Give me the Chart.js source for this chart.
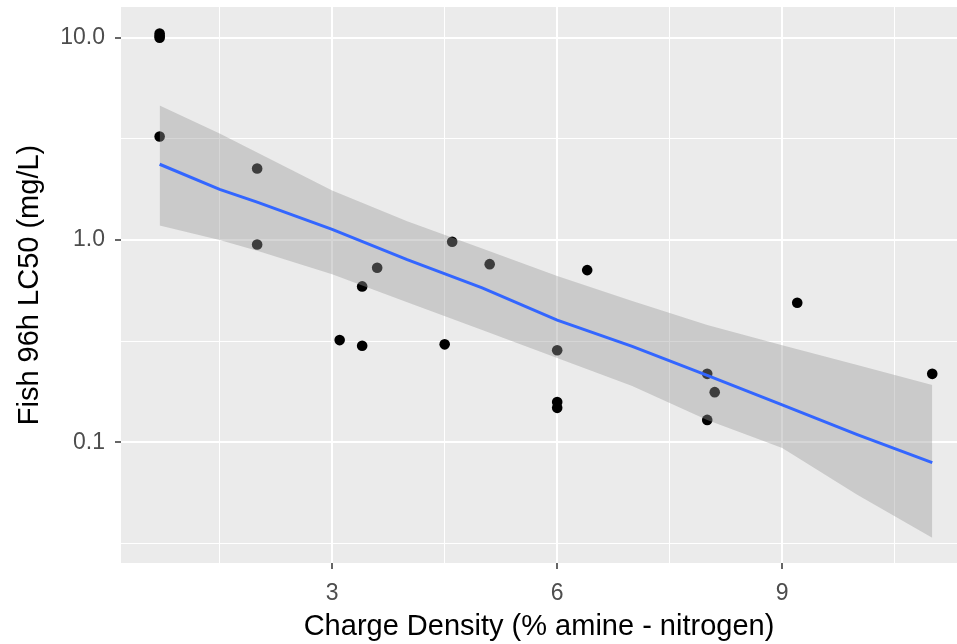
<!DOCTYPE html>
<html>
<head>
<meta charset="utf-8">
<script src="https://cdn.jsdelivr.net/npm/chart.js@4/dist/chart.umd.min.js"></script>
<style>
  html, body { margin: 0; padding: 0; background: #fff; }
  #wrap { width: 957px; height: 644px; }
</style>
</head>
<body>
<div id="wrap"><canvas id="lcChart"></canvas></div>
<script>
// observed points
const pointX = [0.7, 0.7, 0.7, 0.7, 2.0, 2.0, 3.1, 3.4, 3.4, 3.6, 4.5, 4.6, 5.1, 6.0, 6.0, 6.0, 6.4, 8.0, 8.1, 8.0, 9.2, 11.0];
const pointY = [10.0, 10.2, 10.5, 3.25, 2.26, 0.95, 0.32, 0.59, 0.30, 0.73, 0.305, 0.98, 0.76, 0.285, 0.158, 0.148, 0.71, 0.218, 0.177, 0.129, 0.49, 0.218];

// smoother and its confidence band
const smoothX = [0.7, 1.5, 2, 3, 4, 5, 6, 7, 8, 9, 10, 11];
const smoothY = [2.37, 1.78, 1.54, 1.13, 0.80, 0.58, 0.402, 0.298, 0.214, 0.153, 0.109, 0.0793];
const bandHigh = [4.63, 3.36, 2.71, 1.76, 1.24, 0.907, 0.665, 0.499, 0.380, 0.302, 0.241, 0.192];
const bandLow = [1.18, 1.0, 0.886, 0.678, 0.493, 0.359, 0.261, 0.190, 0.129, 0.0937, 0.055, 0.0337];

// axis ticks (major ones carry labels)
const xTicks = [1.5, 3, 4.5, 6, 7.5, 9, 10.5];
const xLabels = ['', '3', '', '6', '', '9', ''];
const yTicks = [0.0316, 0.1, 0.316, 1, 3.16, 10];
const yLabels = ['', '0.1', '', '1.0', '', '10.0'];

const toXY = (xs, ys) => xs.map((x, i) => ({ x: x, y: ys[i] }));

const panelBg = {
    id: 'panelBg',
    beforeDraw(chart) {
        const { ctx, chartArea: a } = chart;
        ctx.save();
        ctx.fillStyle = '#EBEBEB';
        ctx.fillRect(a.left, a.top, a.right - a.left, a.bottom - a.top);
        ctx.restore();
    }
};

Chart.defaults.font.family = '"Liberation Sans", Arial, sans-serif';

new Chart(document.getElementById('lcChart'), {
    type: 'scatter',
    data: {
        datasets: [
            {
                data: toXY(smoothX, smoothY),
                showLine: true,
                borderColor: '#3366FF',
                borderWidth: 3,
                pointRadius: 0,
                fill: false
            },
            {
                data: toXY(smoothX, bandHigh),
                showLine: true,
                borderWidth: 0,
                borderColor: 'rgba(0,0,0,0)',
                pointRadius: 0,
                fill: '+1',
                backgroundColor: 'rgba(153,153,153,0.4)'
            },
            {
                data: toXY(smoothX, bandLow),
                showLine: true,
                borderWidth: 0,
                borderColor: 'rgba(0,0,0,0)',
                pointRadius: 0,
                fill: false
            },
            {
                data: toXY(pointX, pointY),
                backgroundColor: '#000',
                borderWidth: 0,
                pointRadius: 5.3
            }
        ]
    },
    options: {
        responsive: true,
        maintainAspectRatio: false,
        animation: false,
        layout: { autoPadding: false, padding: { top: 7, right: 0, left: 0, bottom: 0 } },
        plugins: {
            legend: { display: false },
            tooltip: { enabled: false }
        },
        scales: {
            x: {
                type: 'linear',
                min: 0.185,
                max: 11.33,
                afterBuildTicks: (scale) => { scale.ticks = xTicks.map(v => ({ value: v })); },
                afterFit: (scale) => {
                    scale.height = 81;
                    scale.paddingLeft = 0;
                    scale.paddingRight = 0;
                },
                border: { display: false },
                grid: {
                    color: '#FFFFFF',
                    lineWidth: (ctx) => xLabels[xTicks.indexOf(ctx.tick.value)] ? 2 : 1,
                    drawTicks: true,
                    tickLength: 6,
                    tickWidth: 1.5,
                    tickColor: (ctx) => xLabels[xTicks.indexOf(ctx.tick.value)] ? '#333333' : 'rgba(0,0,0,0)'
                },
                ticks: {
                    autoSkip: false,
                    maxRotation: 0,
                    padding: 11,
                    color: '#4D4D4D',
                    font: { size: 23 },
                    callback: (v) => xLabels[xTicks.indexOf(v)] || ''
                },
                title: {
                    display: true,
                    text: 'Charge Density (% amine - nitrogen)',
                    color: '#000',
                    font: { size: 29 },
                    padding: { top: 0, bottom: 0 }
                }
            },
            y: {
                type: 'logarithmic',
                min: 0.0253,
                max: 14.2,
                afterBuildTicks: (scale) => { scale.ticks = yTicks.map(v => ({ value: v })); },
                afterFit: (scale) => {
                    scale.width = 121;
                    scale.paddingTop = 0;
                    scale.paddingBottom = 0;
                },
                border: { display: false },
                grid: {
                    color: '#FFFFFF',
                    lineWidth: (ctx) => yLabels[yTicks.indexOf(ctx.tick.value)] ? 2 : 1,
                    drawTicks: true,
                    tickLength: 6,
                    tickWidth: 1.5,
                    tickColor: (ctx) => yLabels[yTicks.indexOf(ctx.tick.value)] ? '#333333' : 'rgba(0,0,0,0)'
                },
                ticks: {
                    autoSkip: false,
                    padding: 10,
                    color: '#4D4D4D',
                    font: { size: 23 },
                    callback: (v) => yLabels[yTicks.indexOf(v)] || ''
                },
                title: {
                    display: true,
                    text: 'Fish 96h LC50 (mg/L)',
                    color: '#000',
                    font: { size: 29 },
                    padding: { top: 13, bottom: 0 }
                }
            }
        }
    },
    plugins: [panelBg]
});
</script>
</body>
</html>
